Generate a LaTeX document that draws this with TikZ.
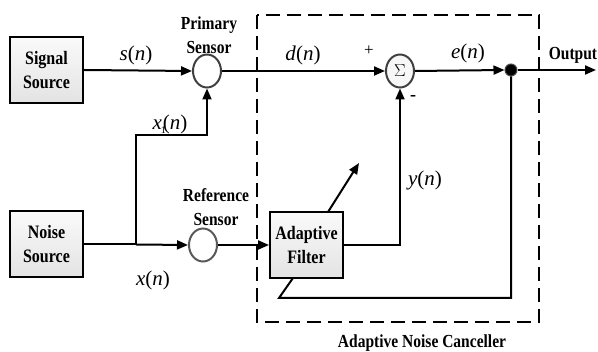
\documentclass[tikz,border=0pt]{standalone}
\usepackage{fontspec}
\usepackage{graphicx}
\setmainfont{Liberation Serif}
\usetikzlibrary{arrows.meta,shapes.geometric}
\newcommand\tallt[1]{\scalebox{0.97}[1.15]{#1}}
\begin{document}
\begin{tikzpicture}[x=1pt,y=-1pt,
  wire/.style={line width=2pt},
  arr/.style={wire,-{Triangle[length=11pt,width=9pt]}},
  blk/.style={draw,line width=2pt,minimum width=73pt,minimum height=66pt,
    top color=gray!4,bottom color=gray!22,align=center,
    font=\fontsize{16.5}{24}\selectfont\bfseries,inner sep=0pt},
  sensor/.style={ellipse,draw=black!75,line width=2pt,fill=white,
    minimum width=28pt,minimum height=33pt,inner sep=0pt},
  lbl/.style={font=\fontsize{16}{24}\selectfont\bfseries,align=center,inner sep=0pt},
  sig/.style={font=\fontsize{21}{21}\selectfont,inner sep=0pt}
]
\useasboundingbox (0,0) rectangle (598,352);
% dashed canceller box
\draw[line width=2pt,dash pattern=on 14pt off 7pt] (257,15) rectangle (539,322);

\node[blk] (sig) at (46.5,70) {\tallt{Signal}\\\tallt{Source}};
\node[blk] (noise) at (46.5,244.5) {\tallt{Noise}\\\tallt{Source}};
\node[blk] (af) at (306.5,245) {\tallt{Adaptive}\\\tallt{Filter}};
\node[sensor] (ps) at (207,71) {};
\node[sensor,draw=black!65] (rs) at (203,245) {};
\node[sensor,fill=gray!6] (sum) at (400,71) {\fontsize{18}{18}\selectfont$\Sigma$};
\node[circle,fill=black,draw=black!70,line width=1pt,minimum size=12pt,inner sep=0pt] (dot) at (511,70) {};

\coordinate (out) at (596,70);
\coordinate (j) at (136,244.5);
\coordinate (jtop) at (136,135);
\coordinate (ptop) at (207,135);
\coordinate (yc) at (400,245);
\coordinate (fbr) at (511,298);
\coordinate (fbl) at (279,298);
\coordinate (fbe) at (293,278);
\coordinate (adtail) at (328,212);
\coordinate (adtip) at (359,163);

% connectors
\draw[arr] (sig.east) -- (ps.west);
\draw[arr] (ps.east) -- (sum.west);
\draw[arr] (sum.east) -- (dot.west);
\draw[arr] (dot.east) -- (out);
\draw[wire] (noise.east) -- (j);
\draw[arr] (j) -- (rs.west);
\draw[arr] (j) -- (jtop) -- (ptop) -- (ps.south);
\draw[arr] (rs.east) -- (af.west);
\draw[arr] (af.east |- yc) -- (yc) -- (sum.south);
\draw[wire] (dot.south) -- (fbr) -- (fbl) -- (fbe);
\draw[arr] (adtail) -- (adtip);

% labels
\node[lbl] (pslbl) at (209,35) {\tallt{Primary}\\\tallt{Sensor}};
\node[lbl] (rslbl) at (216,207) {\tallt{Reference}\\\tallt{Sensor}};
\node[lbl] (outlbl) at (573,55) {\tallt{Output}};
\node[lbl] (anc) at (422,343) {\tallt{Adaptive Noise Canceller}};
\node[sig] (sn) at (136,55) {\textit{s}(\textit{n})};
\node[sig] (x1n) at (170,124) {\textit{x}\kern-1pt\raisebox{-4pt}{\fontsize{10}{10}\selectfont 1}\kern-3pt(\textit{n})};
\node[sig] (xn) at (153,280) {\textit{x}(\textit{n})};
\node[sig] (dn) at (303,55) {\textit{d}(\textit{n})};
\node[sig] (en) at (468,53) {\textit{e}(\textit{n})};
\node[sig] (yn) at (425,180) {\textit{y}(\textit{n})};
\node[font=\fontsize{17}{17}\selectfont,inner sep=0pt] (plus) at (369,51) {+};
\node[font=\fontsize{18}{18}\selectfont\bfseries,inner sep=0pt] (minus) at (413,98) {-};
\end{tikzpicture}
\end{document}
